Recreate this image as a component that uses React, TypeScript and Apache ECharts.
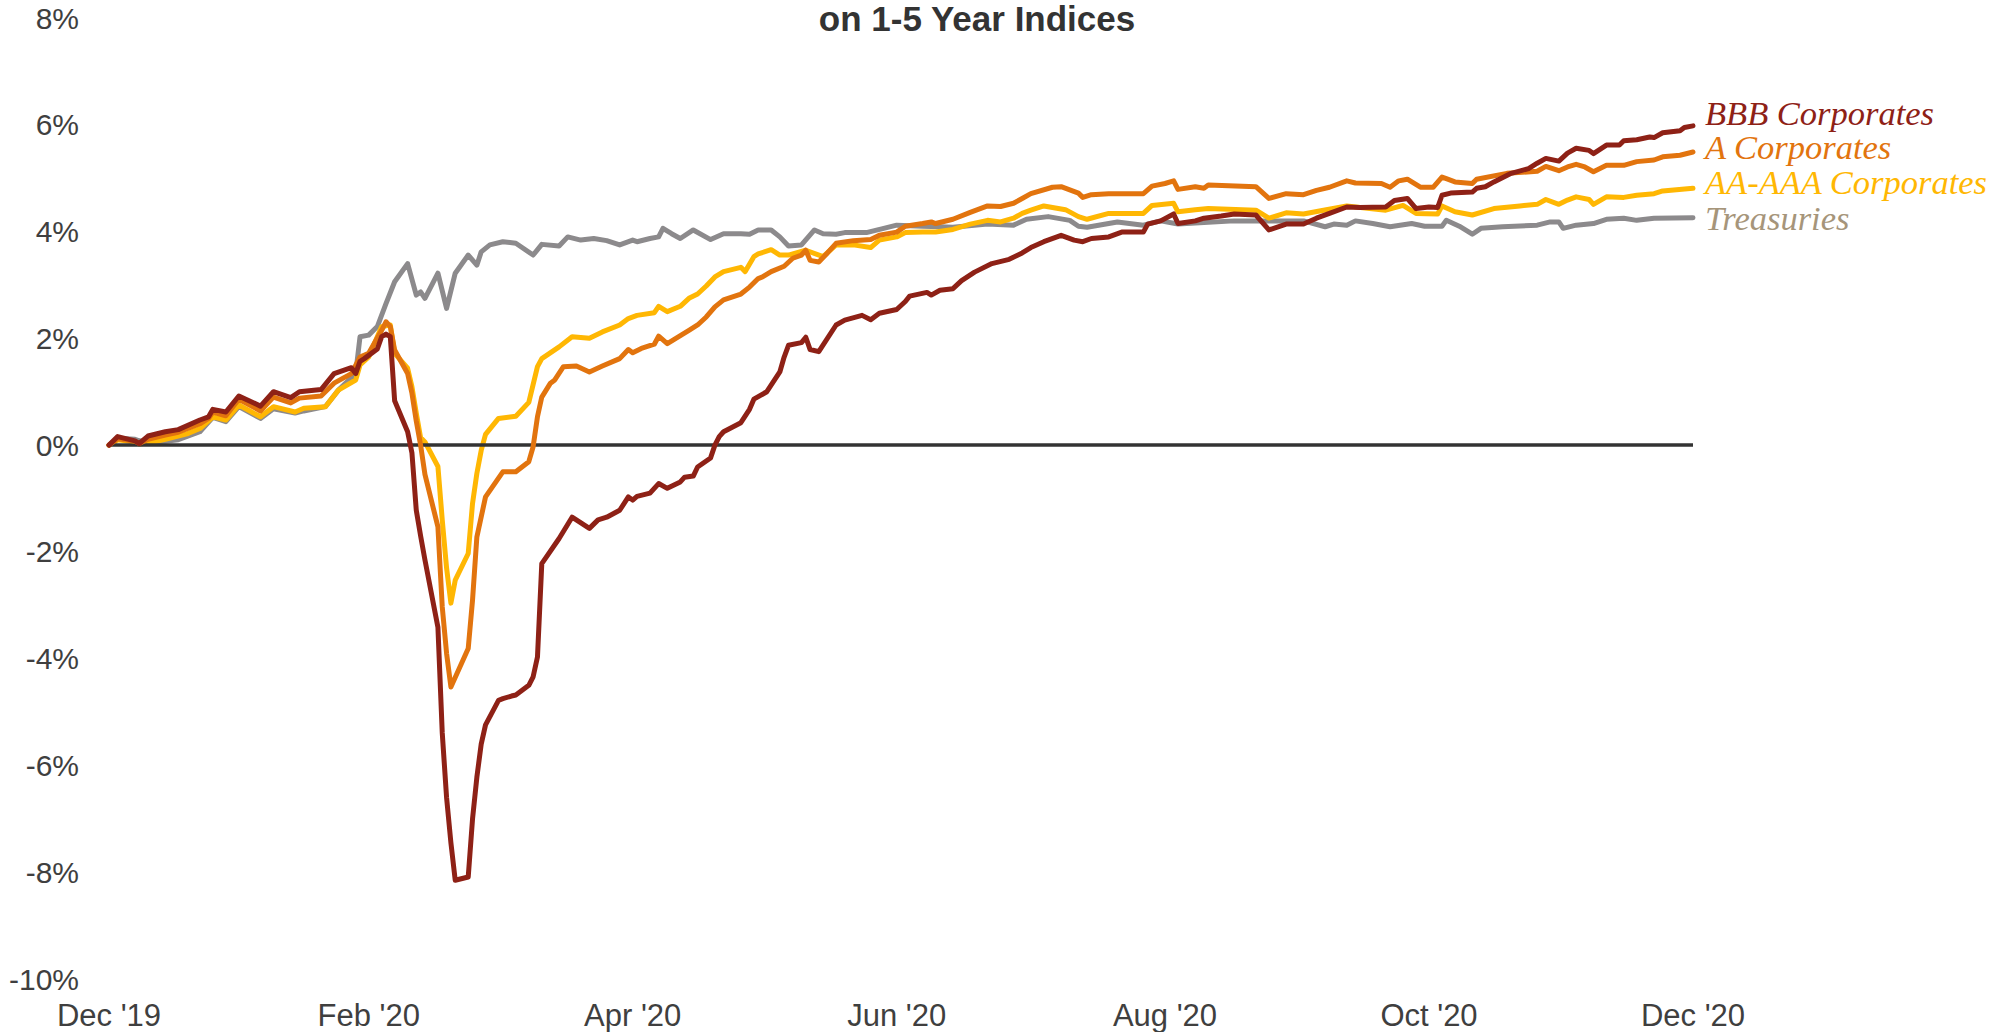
import React, { useEffect, useRef } from "react";
import * as echarts from "echarts";

// ---- Axis definitions ----
const START_DATE = "2019-12-31"; // day 0 of the x axis
const TOTAL_DAYS = 366; // through 2020-12-31
const X_TICK_DAYS = [0, 60, 121, 182, 244, 305, 366];
const X_TICK_LABELS = ["Dec '19", "Feb '20", "Apr '20", "Jun '20", "Aug '20", "Oct '20", "Dec '20"];
const Y_MIN = -10;
const Y_MAX = 8;
const Y_STEP = 2;

const TITLE_TEXT = "on 1-5 Year Indices";
const SERIES_NAMES = ["BBB Corporates", "A Corporates", "AA-AAA Corporates", "Treasuries"];

// ---- Series values: [days since START_DATE, cumulative total return %] ----
const BBB_DATA: [number, number][] = [
  [0, 0], [2, 0.16], [6, 0.08], [7, 0.03], [9, 0.17], [13, 0.25], [16, 0.29], [21, 0.47], [23, 0.53], [24, 0.67],
  [27, 0.62], [30, 0.92], [35, 0.73], [38, 1.0], [42, 0.89], [44, 1.0], [49, 1.04], [52, 1.34], [56, 1.45], [57, 1.34],
  [58, 1.57], [59, 1.62], [62, 1.8], [63, 2.03], [64, 2.08], [65, 2.03], [66, 0.83], [69, 0.25], [70, -0.15], [71, -1.22],
  [72, -1.7], [73, -2.15], [76, -3.41], [77, -5.39], [78, -6.6], [79, -7.45], [80, -8.15], [83, -8.09], [84, -7.0], [85, -6.22],
  [86, -5.6], [87, -5.24], [90, -4.78], [91, -4.75], [93, -4.7], [94, -4.68], [97, -4.5], [98, -4.34], [99, -3.97], [100, -2.22],
  [104, -1.75], [107, -1.35], [111, -1.56], [113, -1.4], [115, -1.35], [118, -1.22], [120, -0.97], [121, -1.03], [122, -0.96], [125, -0.9],
  [127, -0.72], [129, -0.81], [132, -0.69], [133, -0.6], [135, -0.58], [136, -0.41], [139, -0.24], [140, 0.0], [141, 0.16], [142, 0.25],
  [146, 0.42], [148, 0.67], [149, 0.86], [152, 1.0], [155, 1.37], [156, 1.65], [157, 1.87], [160, 1.92], [161, 2.02], [162, 1.79],
  [164, 1.75], [168, 2.25], [170, 2.34], [174, 2.43], [176, 2.35], [178, 2.47], [182, 2.54], [184, 2.69], [185, 2.79], [189, 2.86],
  [190, 2.81], [192, 2.9], [195, 2.93], [197, 3.08], [200, 3.24], [204, 3.4], [208, 3.48], [211, 3.6], [213, 3.7], [216, 3.81],
  [220, 3.93], [223, 3.84], [225, 3.81], [227, 3.87], [231, 3.9], [234, 3.99], [239, 3.99], [240, 4.14], [243, 4.2], [246, 4.33],
  [247, 4.15], [251, 4.2], [253, 4.25], [257, 4.29], [260, 4.33], [265, 4.31], [268, 4.03], [272, 4.14], [276, 4.14], [279, 4.25],
  [282, 4.34], [286, 4.46], [289, 4.45], [295, 4.46], [297, 4.58], [300, 4.62], [302, 4.43], [305, 4.46], [307, 4.45], [308, 4.68],
  [310, 4.72], [315, 4.74], [316, 4.81], [318, 4.84], [320, 4.93], [324, 5.09], [328, 5.18], [330, 5.28], [332, 5.37], [335, 5.32],
  [337, 5.47], [339, 5.56], [342, 5.52], [343, 5.46], [346, 5.62], [349, 5.62], [350, 5.7], [353, 5.72], [356, 5.77], [357, 5.76],
  [359, 5.85], [363, 5.89], [364, 5.95], [366, 5.98],
];

const A_DATA: [number, number][] = [
  [0, 0], [2, 0.12], [6, 0.07], [7, 0.03], [9, 0.11], [13, 0.19], [16, 0.24], [21, 0.4], [23, 0.5], [24, 0.62],
  [27, 0.55], [30, 0.86], [35, 0.64], [38, 0.9], [42, 0.79], [44, 0.88], [49, 0.92], [52, 1.16], [56, 1.34], [58, 1.65],
  [60, 1.72], [63, 2.15], [64, 2.31], [65, 2.22], [66, 1.78], [69, 1.34], [70, 0.97], [71, 0.45], [72, 0.0], [73, -0.55],
  [76, -1.53], [77, -3.03], [78, -3.9], [79, -4.53], [83, -3.81], [84, -2.9], [85, -1.72], [87, -0.97], [91, -0.5], [94, -0.5],
  [97, -0.31], [98, -0.03], [99, 0.53], [100, 0.9], [102, 1.16], [103, 1.22], [105, 1.47], [108, 1.48], [111, 1.37], [114, 1.48],
  [118, 1.62], [120, 1.79], [121, 1.73], [123, 1.81], [126, 1.89], [127, 2.04], [129, 1.9], [134, 2.15], [136, 2.25], [138, 2.4],
  [140, 2.59], [142, 2.72], [146, 2.83], [148, 2.96], [150, 3.12], [151, 3.15], [153, 3.25], [156, 3.35], [158, 3.5], [160, 3.56],
  [161, 3.65], [162, 3.46], [164, 3.43], [166, 3.6], [168, 3.78], [172, 3.83], [176, 3.85], [178, 3.93], [182, 3.99], [184, 4.1],
  [188, 4.15], [190, 4.18], [191, 4.15], [195, 4.23], [199, 4.36], [203, 4.48], [206, 4.47], [209, 4.53], [211, 4.62], [213, 4.71],
  [218, 4.83], [220, 4.84], [224, 4.72], [225, 4.64], [227, 4.69], [231, 4.71], [239, 4.71], [241, 4.85], [244, 4.9], [246, 4.95],
  [247, 4.79], [251, 4.84], [253, 4.81], [254, 4.87], [265, 4.84], [268, 4.62], [272, 4.71], [276, 4.69], [279, 4.77], [282, 4.83],
  [286, 4.95], [288, 4.91], [294, 4.9], [296, 4.83], [298, 4.95], [300, 4.98], [303, 4.83], [306, 4.83], [308, 5.02], [309, 4.99],
  [311, 4.93], [315, 4.9], [316, 4.98], [323, 5.09], [330, 5.13], [332, 5.22], [335, 5.14], [337, 5.21], [339, 5.26], [341, 5.21],
  [343, 5.12], [346, 5.24], [350, 5.24], [353, 5.31], [357, 5.34], [359, 5.4], [363, 5.43], [366, 5.49],
];

const AAA_DATA: [number, number][] = [
  [0, 0], [2, 0.1], [6, 0.06], [7, 0.02], [9, 0.04], [13, 0.11], [18, 0.21], [21, 0.31], [24, 0.53], [27, 0.47],
  [30, 0.75], [35, 0.53], [38, 0.72], [43, 0.62], [45, 0.69], [50, 0.72], [53, 1.03], [57, 1.22], [58, 1.5], [60, 1.65],
  [63, 2.22], [65, 2.25], [66, 1.72], [69, 1.44], [70, 1.09], [71, 0.6], [72, 0.14], [73, 0.06], [76, -0.4], [77, -1.4],
  [78, -2.3], [79, -2.96], [80, -2.53], [83, -2.03], [84, -1.09], [85, -0.53], [86, -0.1], [87, 0.2], [90, 0.5], [94, 0.54],
  [97, 0.8], [99, 1.47], [100, 1.62], [104, 1.84], [107, 2.03], [111, 2.0], [114, 2.12], [118, 2.25], [120, 2.37], [122, 2.43],
  [126, 2.48], [127, 2.6], [129, 2.5], [132, 2.6], [134, 2.75], [136, 2.83], [138, 2.98], [140, 3.15], [142, 3.25], [146, 3.33],
  [147, 3.25], [149, 3.53], [150, 3.58], [153, 3.66], [155, 3.56], [157, 3.56], [161, 3.65], [165, 3.53], [168, 3.75], [172, 3.75],
  [176, 3.7], [178, 3.84], [182, 3.9], [184, 3.98], [188, 3.99], [191, 3.99], [195, 4.04], [199, 4.14], [203, 4.21], [206, 4.18],
  [209, 4.25], [211, 4.34], [213, 4.4], [216, 4.48], [221, 4.41], [224, 4.28], [226, 4.23], [231, 4.34], [239, 4.34], [241, 4.49],
  [246, 4.53], [247, 4.37], [251, 4.41], [254, 4.43], [265, 4.4], [268, 4.25], [272, 4.35], [276, 4.33], [280, 4.39], [286, 4.48],
  [295, 4.4], [299, 4.49], [302, 4.34], [307, 4.33], [308, 4.48], [311, 4.37], [315, 4.31], [320, 4.43], [326, 4.48], [330, 4.51],
  [332, 4.6], [335, 4.51], [337, 4.59], [339, 4.65], [342, 4.6], [343, 4.51], [346, 4.65], [350, 4.64], [353, 4.68], [357, 4.71],
  [359, 4.76], [366, 4.81],
];

const TSY_DATA: [number, number][] = [
  [0, 0], [2, 0.13], [6, 0.11], [7, 0.08], [9, 0.06], [13, 0.07], [16, 0.1], [21, 0.25], [24, 0.52], [27, 0.44],
  [30, 0.72], [35, 0.5], [38, 0.68], [43, 0.6], [45, 0.64], [50, 0.72], [53, 1.03], [57, 1.34], [58, 2.03], [60, 2.06],
  [62, 2.22], [64, 2.65], [66, 3.06], [69, 3.4], [71, 2.81], [72, 2.87], [73, 2.75], [76, 3.22], [78, 2.56], [80, 3.22],
  [83, 3.56], [85, 3.37], [86, 3.62], [88, 3.75], [91, 3.81], [94, 3.78], [98, 3.56], [100, 3.76], [104, 3.73], [106, 3.9],
  [109, 3.84], [112, 3.87], [115, 3.83], [118, 3.75], [121, 3.84], [122, 3.81], [125, 3.87], [127, 3.9], [128, 4.06], [130, 3.96],
  [132, 3.87], [135, 4.03], [139, 3.85], [142, 3.96], [146, 3.96], [148, 3.95], [150, 4.03], [153, 4.03], [155, 3.9], [157, 3.73],
  [160, 3.75], [163, 4.03], [165, 3.96], [168, 3.95], [170, 3.98], [175, 3.98], [179, 4.06], [182, 4.12], [188, 4.1], [192, 4.09],
  [195, 4.08], [203, 4.14], [209, 4.12], [212, 4.23], [217, 4.28], [222, 4.21], [224, 4.1], [226, 4.08], [233, 4.18], [239, 4.12],
  [243, 4.2], [247, 4.14], [251, 4.16], [260, 4.2], [266, 4.2], [276, 4.2], [281, 4.09], [283, 4.14], [286, 4.12], [288, 4.2],
  [292, 4.15], [296, 4.09], [301, 4.15], [304, 4.1], [308, 4.1], [309, 4.21], [312, 4.1], [315, 3.95], [317, 4.06], [322, 4.09],
  [330, 4.12], [333, 4.18], [335, 4.18], [336, 4.06], [339, 4.12], [343, 4.15], [346, 4.23], [350, 4.25], [353, 4.21], [357, 4.25],
  [366, 4.26],
];

// ---- Styles ----
const LINE_COLORS = ["#8e2116", "#e2740e", "#ffb703", "#8c8a8c"];
const LABEL_COLORS = ["#8e2116", "#e2740e", "#ffb703", "#a6957a"];
const LABEL_OFFSETS_Y = [-13, -5, -6, 0];
const AXIS_TEXT = "#3f3f3f";
const SANS = "'Liberation Sans', Arial, Helvetica, sans-serif";
const SERIF = "'Liberation Serif', 'Times New Roman', serif";

export default function App() {
  const ref = useRef<HTMLDivElement>(null);

  useEffect(() => {
    document.body.style.margin = "0";
    if (!ref.current) return;
    const chart = echarts.init(ref.current, null, { renderer: "svg" });

    const startMs = new Date(START_DATE + "T00:00:00Z").getTime();
    const categories: string[] = [];
    for (let i = 0; i <= TOTAL_DAYS; i++) {
      categories.push(new Date(startMs + i * 86400000).toISOString().slice(0, 10));
    }
    const toSeriesData = (arr: [number, number][]) => arr.map(([d, v]) => [categories[d], v]);

    const datasets = [BBB_DATA, A_DATA, AAA_DATA, TSY_DATA];
    // draw order: Treasuries at the bottom, BBB on top
    const order = [3, 2, 1, 0];
    const series: any[] = order.map((k, idx) => ({
      name: SERIES_NAMES[k],
      type: "line",
      data: toSeriesData(datasets[k]),
      showSymbol: false,
      symbol: "none",
      smooth: false,
      z: 3 + idx,
      lineStyle: { color: LINE_COLORS[k], width: 5, cap: "round", join: "round" },
      itemStyle: { color: LINE_COLORS[k] },
      emphasis: { disabled: true },
      endLabel: {
        show: true,
        formatter: SERIES_NAMES[k],
        color: LABEL_COLORS[k],
        fontFamily: SERIF,
        fontStyle: "italic",
        fontSize: 34.5,
        distance: 12,
        offset: [0, LABEL_OFFSETS_Y[k]],
        align: "left",
        verticalAlign: "middle",
      },
      markLine:
        idx === 0
          ? {
              silent: true,
              symbol: "none",
              label: { show: false },
              lineStyle: { color: "#333333", width: 3.5, type: "solid" },
              emphasis: { disabled: true },
              data: [{ yAxis: 0 }],
            }
          : undefined,
    }));

    chart.setOption({
      animation: false,
      backgroundColor: "#ffffff",
      grid: { left: 109, right: 298, top: 18, bottom: 53, containLabel: false },
      xAxis: {
        type: "category",
        data: categories,
        boundaryGap: false,
        axisLine: { show: false },
        axisTick: { show: false },
        splitLine: { show: false },
        axisLabel: {
          interval: (index: number) => X_TICK_DAYS.includes(index),
          formatter: (_v: string, index: number) => {
            const i = X_TICK_DAYS.indexOf(index);
            return i >= 0 ? X_TICK_LABELS[i] : "";
          },
          color: AXIS_TEXT,
          fontFamily: SANS,
          fontSize: 31,
          margin: 21,
        },
      },
      yAxis: {
        type: "value",
        min: Y_MIN,
        max: Y_MAX,
        interval: Y_STEP,
        axisLine: { show: false },
        axisTick: { show: false },
        splitLine: { show: false },
        axisLabel: {
          formatter: "{value}%",
          color: AXIS_TEXT,
          fontFamily: SANS,
          fontSize: 30,
          margin: 30,
        },
      },
      graphic: [
        {
          type: "text",
          x: 977,
          y: 18,
          silent: true,
          style: {
            text: TITLE_TEXT,
            fill: "#333333",
            font: `bold 35px ${SANS}`,
            align: "center",
            verticalAlign: "middle",
          },
        },
      ],
      series,
    });

    return () => {
      chart.dispose();
    };
  }, []);

  return (
    <div
      ref={ref}
      style={{ position: "fixed", left: 0, top: 0, width: 1991, height: 1032 }}
    />
  );
}
